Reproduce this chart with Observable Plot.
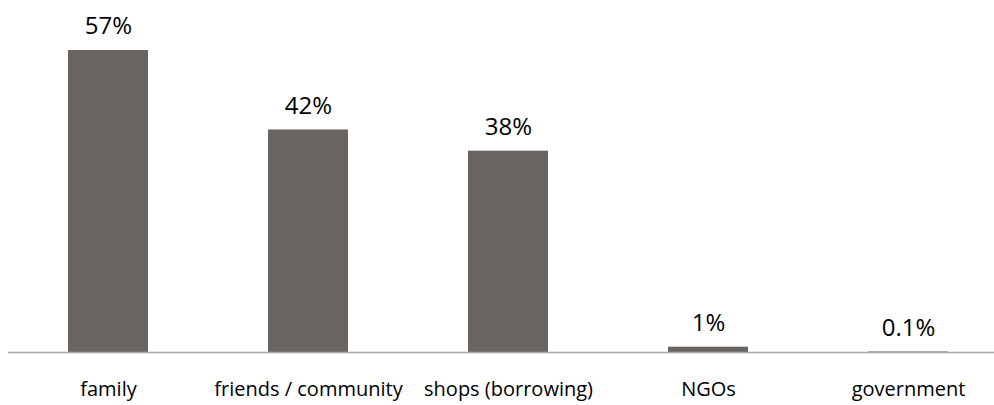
<!DOCTYPE html>
<html>
<head>
<meta charset="utf-8">
<script src="https://cdn.jsdelivr.net/npm/d3@7"></script>
<script src="https://cdn.jsdelivr.net/npm/@observablehq/plot@0.6"></script>
<style>
  html, body { margin: 0; padding: 0; background: #fff; }
  #chart svg { display: block; }
</style>
</head>
<body>
<div id="chart"></div>
<script>
const categories = ["family", "friends / community", "shops (borrowing)", "NGOs", "government"];
const values = [57, 42, 38, 1, 0.1];
const valueLabels = ["57%", "42%", "38%", "1%", "0.1%"];

const data = categories.map((c, i) => ({category: c, value: values[i], label: valueLabels[i]}));

const chart = Plot.plot({
  width: 994,
  height: 405,
  marginTop: 50,
  marginBottom: 53,
  marginLeft: 8,
  marginRight: 0,
  style: {fontFamily: "'Open Sans', sans-serif", background: "#fff"},
  x: {domain: categories, range: [8, 1008], paddingInner: 0.6, paddingOuter: 0.3, label: null},
  y: {domain: [0, 57], axis: null},
  marks: [
    Plot.barY(data, {x: "category", y: "value", fill: "#686462"}),
    Plot.ruleY([0], {stroke: "#a6a6a6", strokeWidth: 1.5}),
    Plot.text(data, {x: "category", y: "value", text: "label", dy: -24, lineAnchor: "middle", fontSize: 24, fill: "#000"}),
    Plot.axisX({tickSize: 0, tickPadding: 29, fontSize: 20, color: "#000", label: null})
  ]
});
document.getElementById("chart").append(chart);
</script>
</body>
</html>
